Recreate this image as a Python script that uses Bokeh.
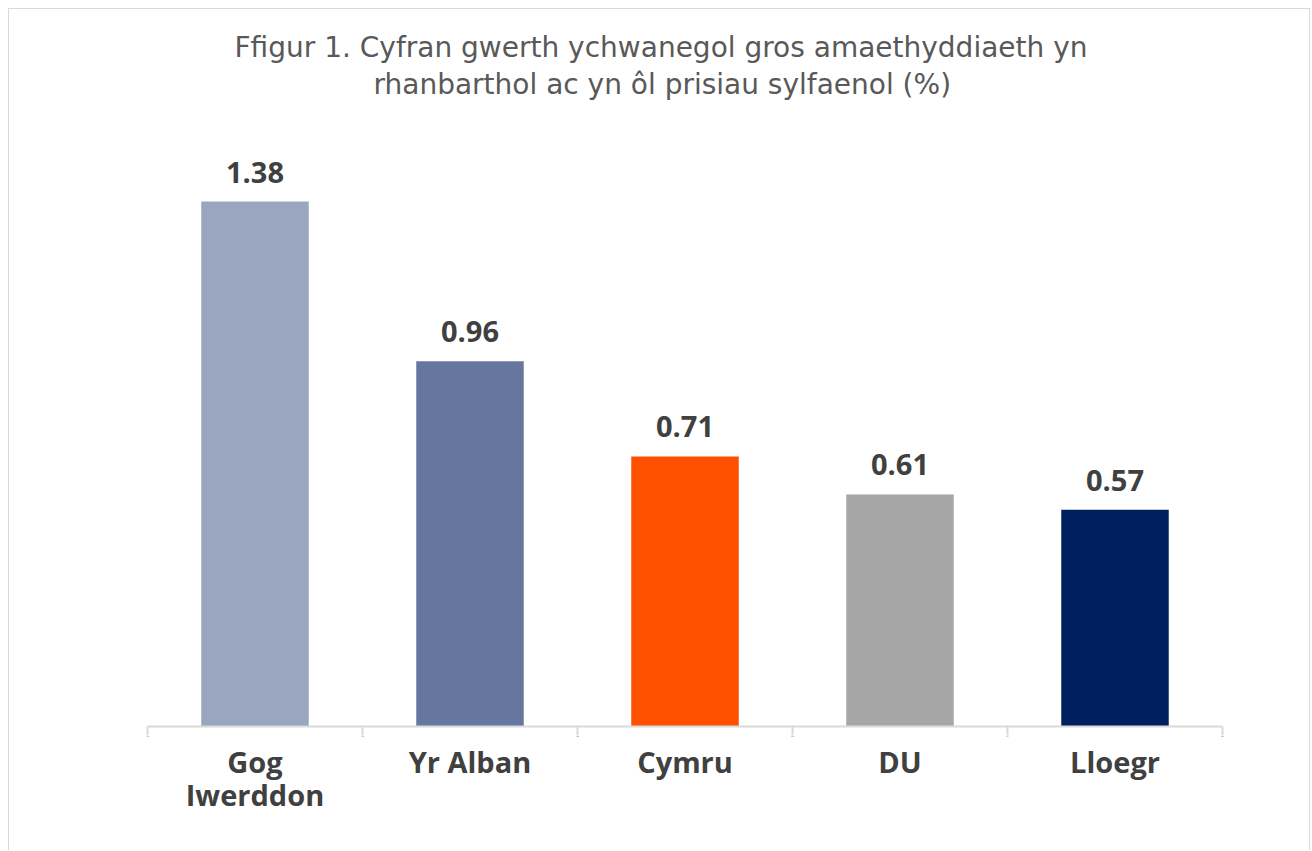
from bokeh.plotting import figure
from bokeh.models import (ColumnDataSource, Range1d, FactorRange, CategoricalAxis,
                          LabelSet, Title)
from bokeh.core.properties import value
from bokeh.embed import file_html
from bokeh.resources import INLINE

categories = ["Gog\nIwerddon", "Yr Alban", "Cymru", "DU", "Lloegr"]
values = [1.38, 0.96, 0.71, 0.61, 0.57]
labels = ["1.38", "0.96", "0.71", "0.61", "0.57"]
colors = ["#9AA5C0", "#66779F", "#FF5000", "#A6A6A6", "#001F5F"]
edges = ["e0", "e1", "e2", "e3", "e4", "e5"]
title_lines = ["Ffigur 1. Cyfran gwerth ychwanegol gros amaethyddiaeth yn",
               "rhanbarthol ac yn ôl prisiau sylfaenol (%)"]

FONT = "Open Sans"
TFONT = "DejaVu Sans"

src = ColumnDataSource(dict(cat=categories, val=values, lab=labels, col=colors))

p = figure(x_range=FactorRange(*categories, range_padding=0), y_range=Range1d(0, 1.6456),
           width=1302, height=842, output_backend="svg", toolbar_location=None,
           x_axis_location=None, y_axis_location=None, title=None,
           min_border_left=138, min_border_right=89, min_border_bottom=125, min_border_top=91)
p.styles = {"border": "1px solid #d9d9d9", "border-bottom": "none",
            "margin-left": "8px", "margin-top": "8px"}
p.outline_line_color = None
p.xgrid.visible = False
p.ygrid.visible = False

# title lines (lower line added first so it sits nearest the plot);
# offsets centre each line on the whole chart rather than on the plot frame
p.add_layout(Title(text=title_lines[1], align="left", offset=226, text_font=TFONT,
                   text_font_style="normal", text_font_size="28px", text_color="#595959",
                   standoff=0), "above")
p.add_layout(Title(text=title_lines[0], align="left", offset=87, text_font=TFONT,
                   text_font_style="normal", text_font_size="28px", text_color="#595959",
                   standoff=3), "above")

p.vbar(x="cat", top="val", width=0.5, source=src, fill_color="col", line_color=None)

p.add_layout(LabelSet(x="cat", y="val", text="lab", source=src, text_align="center",
                      text_baseline="bottom", y_offset=19, text_font=value(FONT),
                      text_font_style="bold", text_font_size="29px", text_color="#404040"))

# boundary ticks axis: factor centres placed on category edges
p.extra_x_ranges = {"edges": FactorRange(*edges, range_padding=-0.499, range_padding_units="absolute")}
ax_edges = CategoricalAxis(x_range_name="edges",
                           axis_line_color="#D9D9D9", axis_line_width=2,
                           major_tick_line_color="#D9D9D9", major_tick_line_width=2,
                           major_tick_in=0, major_tick_out=9, minor_tick_line_color=None,
                           major_label_overrides={e: " " for e in edges},
                           major_label_text_font_size="2px", major_label_standoff=0)
p.add_layout(ax_edges, "below")

ax_cat = CategoricalAxis(axis_line_color=None, major_tick_line_color=None,
                         minor_tick_line_color=None, major_label_standoff=-4,
                         major_label_text_font=FONT, major_label_text_font_style="bold",
                         major_label_text_font_size="29px", major_label_text_color="#404040",
                         major_label_text_line_height=0.85)
p.add_layout(ax_cat, "below")

open("out.html", "w").write(file_html(p, INLINE))
